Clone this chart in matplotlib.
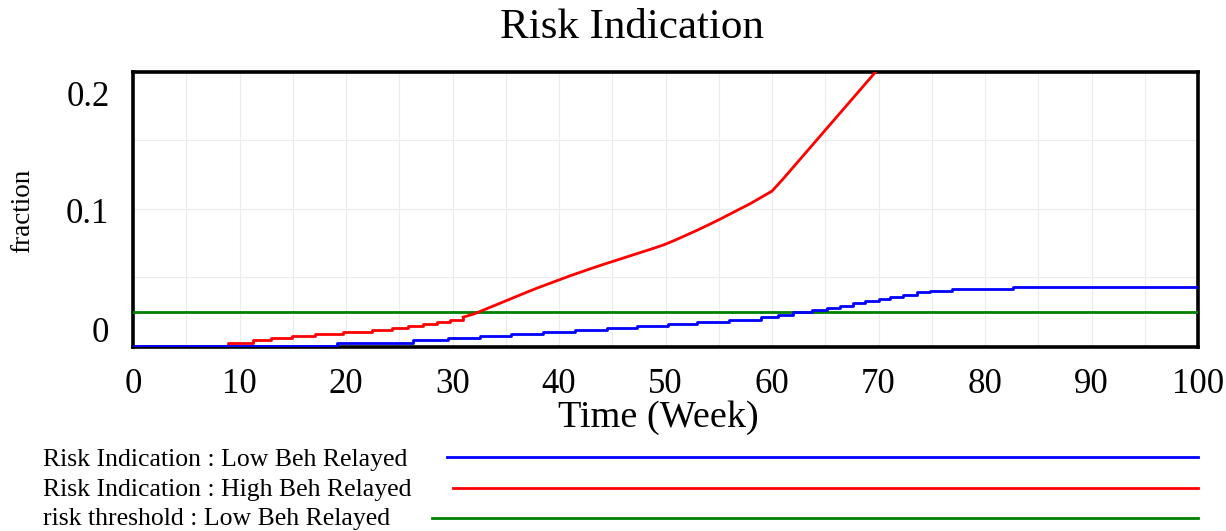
import matplotlib
matplotlib.use("Agg")
import matplotlib.pyplot as plt
import matplotlib.transforms as mtransforms
from matplotlib.lines import Line2D

# Data (Vensim style output)
weeks_low = [0, 19.2, 26.3, 29.6, 32.6, 35.5, 38.5, 41.5, 44.5, 47.3, 50.2, 53, 56, 59,
             60.6, 62, 63.8, 65.2, 66.4, 67.6, 68.7, 70, 71.1, 72.3, 73.6, 74.8, 76.9,
             82.6, 100]
risk_low = [0, 0.002, 0.0039, 0.0056, 0.007, 0.0087, 0.0102, 0.0116, 0.013, 0.0148, 0.016,
            0.0177, 0.019, 0.0209, 0.0225, 0.0245, 0.026, 0.0276, 0.0293, 0.031, 0.0327,
            0.0342, 0.0359, 0.0373, 0.039, 0.04, 0.0415, 0.0429, 0.0429]

weeks_high = [0, 8.9, 11.3, 13, 14.9, 17.1, 19.7, 22.4, 24.3, 25.8, 27.2, 28.5, 29.8, 31,
              32, 33, 34, 35, 36, 37, 38, 39, 40, 41, 42, 43, 44, 45, 46, 47, 48, 49, 50,
              51, 52, 53, 54, 55, 56, 57, 58, 59, 60, 61, 62, 63, 64, 65, 66, 67, 68, 69,
              70, 71]
risk_high = [0, 0.002, 0.0039, 0.0056, 0.0071, 0.0085, 0.01, 0.0114, 0.0129, 0.0143,
             0.0158, 0.0172, 0.0189, 0.0209, 0.0232, 0.0264, 0.0296, 0.0328, 0.036, 0.0392,
             0.0423, 0.0452, 0.0481, 0.051, 0.0537, 0.0564, 0.059, 0.0615, 0.064, 0.0665,
             0.069, 0.0715, 0.0742, 0.0775, 0.081, 0.0845, 0.0882, 0.092, 0.096, 0.1, 0.104,
             0.1085, 0.113, 0.1215, 0.1305, 0.1395, 0.1485, 0.1575, 0.1665, 0.1755, 0.1845,
             0.1935, 0.2025, 0.2115]
n_step_high = 14  # the first points are clear steps, the rest reads as a line

weeks_thr = [0, 100]
risk_thr = [0.025, 0.025]

legend_labels = ["Risk Indication : Low Beh Relayed",
                 "Risk Indication : High Beh Relayed",
                 "risk threshold : Low Beh Relayed"]
colors = ["#0000ff", "#ff0000", "#008000"]

plt.rcParams['font.family'] = ['Liberation Serif', 'DejaVu Serif']

W, H = 1226, 531
fig = plt.figure(figsize=(W / 100, H / 100), dpi=100)
ax = fig.add_axes([133 / W, 1 - 347 / H, (1198 - 133) / W, (347 - 72) / H])

lw = 2.0
ax.plot(weeks_thr, risk_thr, color=colors[2], lw=lw, zorder=3)
ax.plot(weeks_high[:n_step_high], risk_high[:n_step_high], color=colors[1], lw=lw,
        drawstyle='steps-post', zorder=3)
ax.plot(weeks_high[n_step_high - 1:], risk_high[n_step_high - 1:], color=colors[1], lw=lw,
        zorder=3)
ax.plot(weeks_low, risk_low, color=colors[0], lw=lw, drawstyle='steps-post', zorder=3.5)

ax.set_xlim(0, 100)
ax.set_ylim(-0.0009, 0.2)

# light grid on every axis division
for x in range(5, 100, 5):
    ax.axvline(x, color='#ececec', lw=0.8, zorder=0)
for y in [0.05, 0.1, 0.15]:
    ax.axhline(y, color='#ececec', lw=0.8, zorder=0)

for s in ax.spines.values():
    s.set_linewidth(2.6)
    s.set_color('black')
    s.set_zorder(2.5)

ax.set_xticks(range(0, 101, 10))
ax.set_yticks([0, 0.1, 0.2])
ax.set_yticklabels(['0', '0.1', '0.2'])
ax.tick_params(axis='both', length=0)
ax.tick_params(axis='x', pad=15, labelsize=25)
ax.tick_params(axis='y', pad=17, labelsize=25)

# Vensim pulls the end labels inside the axis height
shifts = [16, -2, -21]
for lab, dy in zip(ax.get_yticklabels(), shifts):
    lab.set_transform(lab.get_transform() +
                      mtransforms.ScaledTranslation(0, dy / 100, fig.dpi_scale_trans))

ax.set_xlabel('Time (Week)', fontsize=27.5, labelpad=0, va='center')
ax.xaxis.set_label_coords((658 - 133) / (1198 - 133), -(418 - 347) / (347 - 72))
fig.text(23 / W, 1 - 211 / H, 'fraction', rotation=90, fontsize=19.5,
         ha='center', va='center')
fig.text(632 / W, 1 - 28 / H, 'Risk Indication', fontsize=31, ha='center', va='center')

# legend rows below the chart
rows_base = [466, 496, 525]
rows_line = [457, 488, 518]
line_start = [447, 453, 432]
for lbl, c, yb, yl, xs in zip(legend_labels, colors, rows_base, rows_line, line_start):
    fig.text(43 / W, 1 - yb / H, lbl, fontsize=18.5, ha='left', va='baseline')
    fig.add_artist(Line2D([xs / W, 1198 / W], [1 - yl / H, 1 - yl / H],
                          color=c, lw=lw, transform=fig.transFigure))

fig.savefig('out.png', dpi=100)
